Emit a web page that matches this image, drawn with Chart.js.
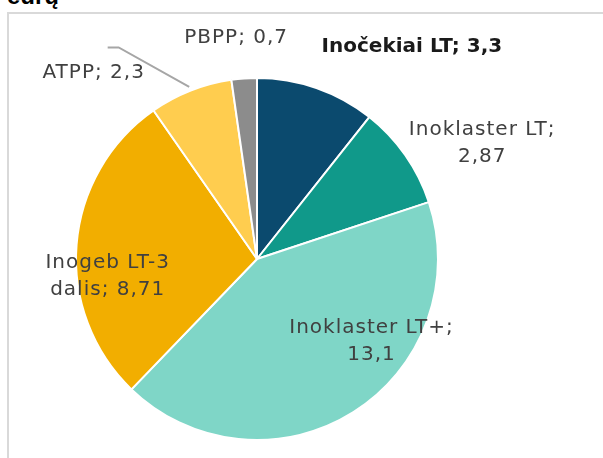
<!DOCTYPE html>
<html>
<head>
<meta charset="utf-8">
<script src="https://cdn.jsdelivr.net/npm/chart.js@4"></script>
<style>
  html, body { margin: 0; padding: 0; background: #fff; overflow: hidden; }
  #wrap { position: relative; width: 603px; height: 458px; }
  #frame { position: absolute; left: 7px; top: 12px; width: 640px; height: 500px; border: 2px solid #d9d9d9; box-sizing: border-box; }
  #ttl { position: absolute; left: 7px; top: -18px; font: bold 24px "Liberation Sans", Arial, sans-serif; color: #000; }
  canvas { position: absolute; left: 0; top: 0; }
</style>
</head>
<body>
<div id="wrap">
  <div id="frame"></div>
  <div id="ttl">eurų</div>
  <canvas id="myChart" width="603" height="458"></canvas>
</div>
<script>
var labels = ['Inočekiai LT', 'Inoklaster LT', 'Inoklaster LT+', 'Inogeb LT-3 dalis', 'ATPP', 'PBPP'];
var values = [3.3, 2.87, 13.1, 8.71, 2.3, 0.7];
var colors = ['#0b4a6e', '#10998a', '#7fd6c7', '#f2ae00', '#ffcd4f', '#8c8c8c'];

// label text, split in lines as in the source chart
var labelLines = [
  ['Inočekiai LT; 3,3'],
  ['Inoklaster LT;', '2,87'],
  ['Inoklaster LT+;', '13,1'],
  ['Inogeb LT-3', 'dalis; 8,71'],
  ['ATPP; 2,3'],
  ['PBPP; 0,7']
];
// [radius factor, angle shift from slice middle in degrees]
var labelPlace = [[1.45, 17], [1.40, 7.7], [0.78, -22], [0.83, -11], [1.37, -19.7], [1.23, -1.3]];

var sliceLabels = {
  id: 'sliceLabels',
  afterDatasetsDraw: function(chart) {
    var c = chart.ctx;
    var arcs = chart.getDatasetMeta(0).data;
    c.save();
    c.textAlign = 'center';
    c.textBaseline = 'middle';
    arcs.forEach(function(arc, i) {
      var mid = (arc.startAngle + arc.endAngle) / 2;
      var R = arc.outerRadius;
      var a = mid + labelPlace[i][1] * Math.PI / 180;
      var x = arc.x + Math.cos(a) * R * labelPlace[i][0];
      var y = arc.y + Math.sin(a) * R * labelPlace[i][0];
      if (i === 4) {
        c.strokeStyle = '#a6a6a6';
        c.lineWidth = 2;
        c.beginPath();
        c.moveTo(x + 14, y - 25);
        c.lineTo(x + 25, y - 25);
        c.lineTo(arc.x + Math.cos(mid) * (R + 4), arc.y + Math.sin(mid) * (R + 4));
        c.stroke();
      }
      c.fillStyle = i === 0 ? '#1a1a1a' : '#404040';
      c.font = (i === 0 ? 'bold ' : '') + '20px "DejaVu Sans", sans-serif';
      c.letterSpacing = i === 0 ? '0px' : '1px';
      var lines = labelLines[i];
      var lh = 27;
      lines.forEach(function(t, k) {
        c.fillText(t, x, y + (k - (lines.length - 1) / 2) * lh);
      });
    });
    c.restore();
  }
};

var ctx = document.getElementById('myChart').getContext('2d');
var myChart = new Chart(ctx, {
  type: 'pie',
  data: {
    labels: labels,
    datasets: [{
      data: values,
      backgroundColor: colors,
      borderColor: '#ffffff',
      borderWidth: 2
    }]
  },
  options: {
    responsive: false,
    animation: false,
    layout: { padding: { left: 75, right: 164, top: 77, bottom: 17 } },
    plugins: {
      legend: { display: false },
      tooltip: { enabled: false }
    }
  },
  plugins: [sliceLabels]
});
</script>
</body>
</html>
